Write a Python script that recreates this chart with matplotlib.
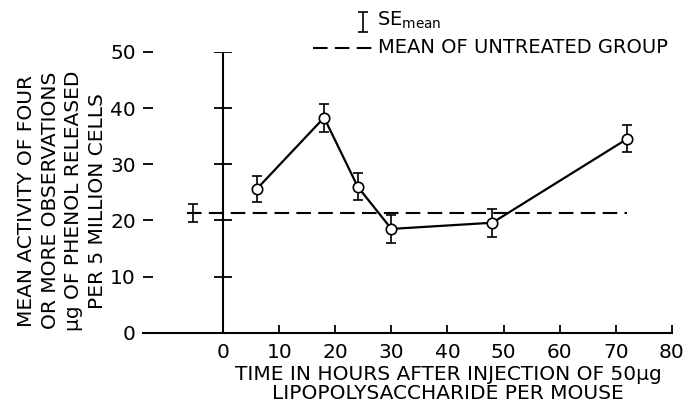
import numpy as np
import matplotlib.pyplot as plt

# data
hours = [6, 18, 24, 30, 48, 72]
activity = [25.6, 38.3, 26.0, 18.5, 19.6, 34.5]
se = [2.4, 2.5, 2.4, 2.5, 2.5, 2.4]

untreated_x = -5.3
untreated_mean = 21.3
untreated_se = 1.6
untreated_span = [-6.5, 72]

xticks = [0, 10, 20, 30, 40, 50, 60, 70, 80]
yticks = [0, 10, 20, 30, 40, 50]
center_ticks = [10, 20, 30, 40, 50]

plt.rcParams['font.family'] = 'DejaVu Sans'
plt.rcParams['mathtext.fontset'] = 'dejavusans'

fig = plt.figure(figsize=(6.87, 4.05), dpi=100)
ax = fig.add_axes([0.208, 0.178, 0.770, 0.694])
ax.set_xlim(-14.3, 80)
ax.set_ylim(0, 50)

for s in ['top', 'right', 'left']:
    ax.spines[s].set_visible(False)
ax.spines['bottom'].set_linewidth(1.5)

ax.set_xticks(xticks)
ax.set_yticks(yticks)
ax.tick_params(axis='x', direction='in', length=6, width=1.3, labelsize=14.5, pad=7)
ax.tick_params(axis='y', direction='in', length=7, width=1.3, labelsize=14.5, pad=5)

# vertical axis through zero with crossing ticks
ax.plot([0, 0], [0, 50], color='black', lw=1.5)
ax.hlines(center_ticks, -1.6, 1.6, color='black', lw=1.3)

# untreated mean
ax.plot(untreated_span, [untreated_mean] * 2, color='black', lw=1.5,
        dashes=(7, 3.5))
ax.errorbar([untreated_x], [untreated_mean], yerr=[untreated_se],
            fmt='none', ecolor='black', elinewidth=1.2, capsize=3.5, capthick=1.2)

# treated series
ax.errorbar(hours, activity, yerr=se, fmt='-o', color='black', lw=1.6,
            mfc='white', mec='black', mew=1.2, ms=7.5,
            elinewidth=1.2, capsize=3.5, capthick=1.2, zorder=3)

# legend drawn by hand
ax.errorbar([24.9], [55.35], yerr=[1.75], fmt='none', ecolor='black',
            elinewidth=1.2, capsize=3.5, capthick=1.2, clip_on=False)
ax.text(27.4, 55.6, r'SE$_{\mathrm{mean}}$', fontsize=14, va='center',
        ha='left', clip_on=False)
ax.plot([16, 26.7], [50.7, 50.7], color='black', lw=1.5, dashes=(7, 3.5),
        clip_on=False)
ax.text(27.6, 50.7, 'MEAN OF UNTREATED GROUP', fontsize=14, va='center',
        ha='left', clip_on=False)

ax.set_xlabel('TIME IN HOURS AFTER INJECTION OF 50µg\nLIPOPOLYSACCHARIDE PER MOUSE',
              fontsize=14.5, linespacing=1.0)
ax.xaxis.set_label_coords(0.577, -0.115, transform=ax.transAxes)
ax.set_ylabel('MEAN ACTIVITY OF FOUR\nOR MORE OBSERVATIONS\nµg OF PHENOL RELEASED\nPER 5 MILLION CELLS',
              fontsize=14.5, linespacing=1.3)
ax.yaxis.set_label_coords(-0.068, 0.47, transform=ax.transAxes)

fig.savefig('out.png', dpi=100)
